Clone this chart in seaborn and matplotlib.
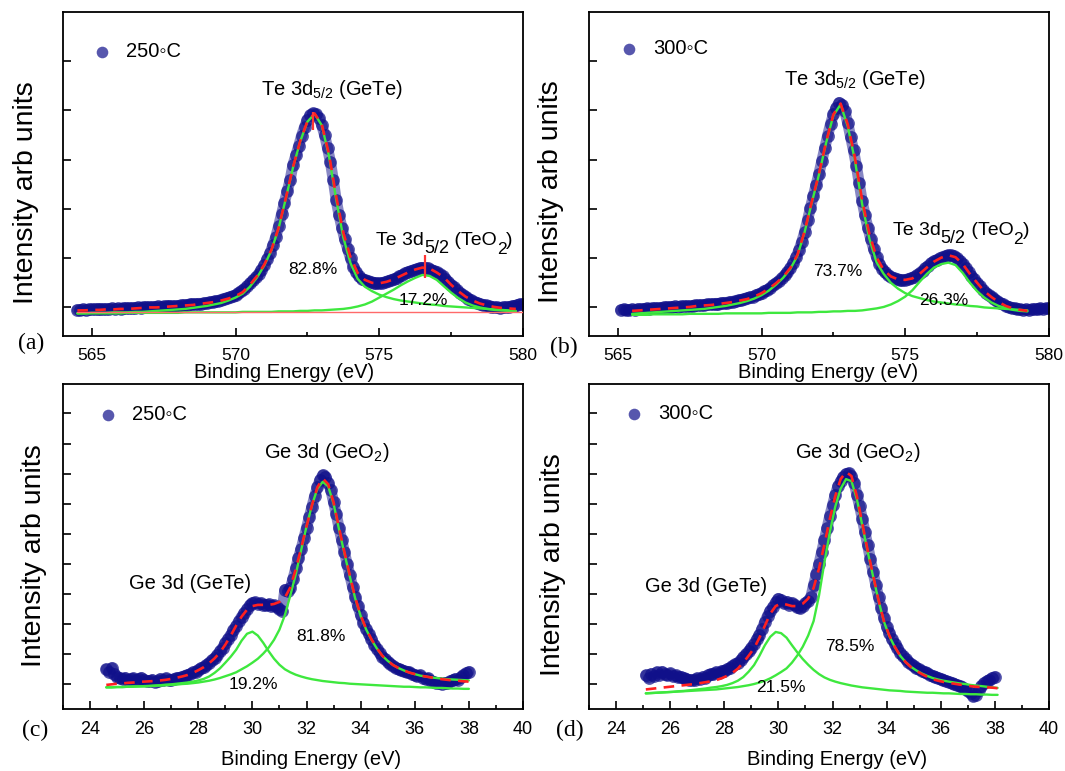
import numpy as np
import matplotlib
matplotlib.use("Agg")
import matplotlib.pyplot as plt
from matplotlib.ticker import MultipleLocator
import seaborn as sns

# ---------------- data ----------------
# panel (a): Te 3d, 250 C
a_data_range = (564.5, 580.0)
a_data_I = [-0.05,-0.05,-0.04,-0.05,-0.04,-0.04,-0.04,-0.03,-0.04,-0.03,
            -0.03,-0.03,-0.02,-0.03,-0.02,-0.03,-0.02,-0.01,-0.02,-0.01,
            -0.01,0.00,-0.01,0.00,0.01,0.00,0.01,0.01,0.02,0.01,
            0.02,0.02,0.03,0.02,0.03,0.03,0.04,0.05,0.05,0.06,
            0.06,0.07,0.08,0.08,0.09,0.10,0.11,0.12,0.13,0.14,
            0.16,0.18,0.19,0.21,0.23,0.25,0.29,0.33,0.38,0.43,
            0.49,0.55,0.61,0.68,0.77,0.86,0.98,1.10,1.26,1.43,
            1.65,1.89,2.13,2.36,2.59,2.90,3.09,3.28,3.49,3.66,
            3.81,3.90,3.94,3.92,3.85,3.70,3.50,3.24,2.96,2.59,
            2.19,1.88,1.62,1.38,1.19,1.00,0.83,0.72,0.63,0.58,
            0.55,0.53,0.51,0.50,0.49,0.49,0.50,0.51,0.53,0.55,
            0.57,0.60,0.63,0.66,0.69,0.72,0.74,0.76,0.78,0.80,
            0.81,0.81,0.80,0.77,0.74,0.71,0.67,0.63,0.58,0.52,
            0.46,0.41,0.35,0.30,0.26,0.22,0.18,0.15,0.12,0.10,
            0.07,0.05,0.04,0.02,0.01,0.00,0.00,-0.01,0.00,0.01,
            0.00,0.02,0.03,0.05,0.07,0.06]
a_line_range = (564.5, 579.75)
a_fit_I = [-0.06,-0.06,-0.05,-0.05,-0.04,-0.04,-0.03,-0.03,-0.02,-0.01,
           0.00,0.00,0.01,0.02,0.03,0.04,0.05,0.07,0.09,0.11,
           0.14,0.18,0.23,0.31,0.46,0.64,0.87,1.17,1.62,2.22,
           2.85,3.38,3.78,3.94,3.72,3.12,2.26,1.52,1.02,0.70,
           0.56,0.50,0.49,0.52,0.57,0.64,0.71,0.77,0.81,0.79,
           0.71,0.61,0.46,0.33,0.22,0.14,0.08,0.04,0.01,-0.01,
           -0.02,-0.03]
a_gete_I = [-0.12,-0.12,-0.11,-0.11,-0.11,-0.10,-0.10,-0.10,-0.09,-0.09,
            -0.08,-0.07,-0.06,-0.05,-0.04,-0.03,-0.01,0.01,0.03,0.06,
            0.09,0.14,0.20,0.28,0.42,0.61,0.85,1.16,1.61,2.21,
            2.84,3.37,3.77,3.93,3.70,3.08,2.20,1.42,0.90,0.58,
            0.42,0.33,0.26,0.21,0.17,0.14,0.12,0.10,0.08,0.06,
            0.05,0.03,0.02,0.01,0.00,-0.01,-0.02,-0.03,-0.04,-0.05,
            -0.06,-0.07]
a_teo2_I = [-0.12,-0.12,-0.12,-0.12,-0.12,-0.12,-0.12,-0.11,-0.11,-0.11,
            -0.11,-0.11,-0.11,-0.11,-0.11,-0.10,-0.10,-0.10,-0.10,-0.10,
            -0.10,-0.10,-0.10,-0.09,-0.09,-0.09,-0.09,-0.09,-0.08,-0.08,
            -0.08,-0.07,-0.07,-0.06,-0.06,-0.05,-0.04,-0.03,-0.01,0.02,
            0.06,0.12,0.20,0.28,0.36,0.45,0.53,0.60,0.66,0.64,
            0.56,0.43,0.30,0.19,0.10,0.04,0.00,-0.03,-0.05,-0.06,
            -0.07,-0.08]
a_bg_E = [564.5, 580.0]
a_bg_I = [-0.10, -0.10]
a_peak_E = [572.71, 576.59]
a_peak_lo = [3.60, 0.60]
a_peak_hi = [3.97, 1.06]

# panel (b): Te 3d, 300 C
b_data_range = (565.1, 580.0)
b_data_I = [-0.05,-0.04,-0.06,-0.05,-0.04,-0.05,-0.03,-0.04,-0.03,-0.02,
            -0.03,-0.02,-0.01,-0.02,-0.01,0.00,0.01,0.00,0.01,0.02,
            0.01,0.02,0.02,0.03,0.02,0.03,0.04,0.04,0.05,0.05,
            0.06,0.06,0.07,0.08,0.08,0.09,0.10,0.10,0.12,0.12,
            0.14,0.15,0.16,0.18,0.19,0.21,0.22,0.25,0.27,0.30,
            0.33,0.36,0.40,0.45,0.49,0.54,0.60,0.65,0.72,0.80,
            0.90,1.02,1.16,1.33,1.53,1.77,2.02,2.26,2.49,2.72,
            2.98,3.24,3.49,3.72,3.92,4.06,4.16,4.12,3.98,3.74,
            3.47,3.19,2.88,2.52,2.16,1.87,1.62,1.39,1.19,1.02,
            0.89,0.79,0.71,0.66,0.62,0.59,0.57,0.56,0.55,0.56,
            0.57,0.59,0.62,0.66,0.70,0.75,0.80,0.85,0.90,0.94,
            0.97,1.00,1.03,1.05,1.06,1.06,1.04,1.00,0.95,0.89,
            0.81,0.72,0.64,0.57,0.50,0.43,0.36,0.30,0.25,0.21,
            0.17,0.13,0.09,0.06,0.03,0.01,-0.01,-0.02,-0.04,-0.04,
            -0.05,-0.04,-0.05,-0.04,-0.03,-0.04,-0.02,-0.03,-0.02,-0.02]
b_line_range = (565.5, 579.25)
b_fit_I = [-0.07,-0.06,-0.05,-0.04,-0.03,-0.02,-0.01,0.00,0.01,0.03,
           0.04,0.05,0.07,0.09,0.11,0.14,0.17,0.22,0.29,0.38,
           0.49,0.62,0.80,1.07,1.55,2.15,2.72,3.37,3.92,4.14,
           3.72,3.04,2.18,1.50,1.02,0.76,0.63,0.57,0.56,0.59,
           0.68,0.81,0.93,1.01,1.06,1.02,0.88,0.68,0.50,0.33,
           0.21,0.11,0.03,-0.02,-0.05,-0.07]
b_gete_I = [-0.13,-0.12,-0.11,-0.10,-0.09,-0.08,-0.07,-0.06,-0.05,-0.04,
            -0.03,-0.01,0.01,0.03,0.06,0.09,0.13,0.18,0.25,0.34,
            0.46,0.60,0.78,1.05,1.53,2.13,2.70,3.35,3.90,4.12,
            3.68,2.98,2.10,1.40,0.92,0.68,0.50,0.38,0.29,0.23,
            0.19,0.15,0.12,0.10,0.08,0.06,0.05,0.03,0.02,0.00,
            -0.01,-0.02,-0.03,-0.04,-0.05,-0.06]
b_teo2_I = [-0.15,-0.15,-0.15,-0.14,-0.14,-0.14,-0.14,-0.14,-0.13,-0.13,
            -0.13,-0.13,-0.13,-0.12,-0.12,-0.12,-0.12,-0.12,-0.12,-0.11,
            -0.11,-0.11,-0.11,-0.10,-0.10,-0.10,-0.09,-0.09,-0.08,-0.08,
            -0.07,-0.07,-0.06,-0.04,-0.02,0.01,0.06,0.13,0.22,0.35,
            0.52,0.68,0.81,0.88,0.91,0.86,0.70,0.50,0.33,0.20,
            0.10,0.03,-0.01,-0.05,-0.07,-0.08]

# panel (c): Ge 3d, 250 C
c_data_range = (24.6, 38.0)
c_data_I = [0.50,0.42,0.55,0.35,0.25,0.20,0.18,0.22,0.15,0.17,
            0.20,0.14,0.18,0.22,0.16,0.12,0.10,0.15,0.08,0.12,
            0.18,0.14,0.20,0.16,0.13,0.18,0.22,0.20,0.26,0.28,
            0.30,0.34,0.40,0.42,0.48,0.55,0.58,0.64,0.72,0.80,
            0.88,0.97,1.10,1.22,1.38,1.52,1.65,1.80,1.95,2.10,
            2.25,2.38,2.50,2.62,2.70,2.72,2.68,2.70,2.65,2.62,
            2.66,2.60,2.62,2.58,2.50,2.45,3.15,3.10,3.20,3.50,
            3.85,4.20,4.50,4.85,5.20,5.55,5.90,6.25,6.55,6.80,
            6.95,6.90,6.70,6.45,6.05,5.65,5.20,4.80,4.40,4.00,
            3.62,3.25,2.90,2.60,2.30,2.05,1.85,1.68,1.50,1.32,
            1.18,1.05,0.92,0.85,0.75,0.68,0.62,0.55,0.52,0.48,
            0.44,0.40,0.40,0.34,0.30,0.28,0.30,0.22,0.18,0.20,
            0.12,0.08,0.04,0.06,0.02,0.06,0.04,0.10,0.14,0.18,
            0.15,0.24,0.30,0.36,0.42]
c_line_range = (24.6, 38.0)
c_fit_I = [-0.02,0.00,0.02,0.03,0.05,0.06,0.08,0.09,0.10,0.11,
           0.13,0.15,0.18,0.22,0.26,0.31,0.38,0.47,0.57,0.70,
           0.86,1.06,1.32,1.62,1.95,2.25,2.48,2.60,2.64,2.64,
           2.64,2.67,2.74,2.88,3.22,3.82,4.52,5.25,5.95,6.55,
           6.84,6.65,6.05,5.20,4.40,3.62,2.88,2.30,1.85,1.50,
           1.20,0.95,0.78,0.64,0.54,0.46,0.39,0.34,0.29,0.26,
           0.23,0.20,0.17,0.15,0.13,0.12,0.10,0.09]
c_geo2_I = [-0.10,-0.10,-0.09,-0.09,-0.08,-0.08,-0.07,-0.07,-0.06,-0.05,
            -0.04,-0.03,-0.02,-0.01,0.01,0.02,0.04,0.06,0.09,0.12,
            0.16,0.21,0.27,0.33,0.40,0.50,0.60,0.72,0.85,1.02,
            1.22,1.48,1.82,2.30,2.95,3.65,4.45,5.25,5.95,6.50,
            6.73,6.58,6.00,5.15,4.35,3.58,2.85,2.27,1.83,1.48,
            1.19,0.95,0.78,0.64,0.54,0.46,0.39,0.34,0.29,0.26,
            0.23,0.21,0.19,0.17,0.16,0.15,0.14,0.13]
c_gete_I = [-0.10,-0.10,-0.09,-0.09,-0.08,-0.07,-0.07,-0.06,-0.05,-0.04,
            -0.03,-0.01,0.00,0.02,0.04,0.06,0.09,0.13,0.18,0.26,
            0.38,0.53,0.72,0.92,1.15,1.45,1.68,1.75,1.62,1.38,
            1.10,0.85,0.65,0.50,0.40,0.32,0.26,0.21,0.17,0.14,
            0.11,0.09,0.07,0.05,0.04,0.02,0.01,0.00,-0.01,-0.02,
            -0.03,-0.04,-0.05,-0.06,-0.07,-0.08,-0.08,-0.09,-0.10,-0.10,
            -0.11,-0.12,-0.12,-0.13,-0.14,-0.14,-0.15,-0.15]

# panel (d): Ge 3d, 300 C
d_data_range = (25.1, 38.0)
d_data_I = [0.30,0.22,0.35,0.28,0.40,0.32,0.42,0.35,0.30,0.36,
            0.28,0.30,0.24,0.26,0.20,0.18,0.15,0.14,0.16,0.20,
            0.18,0.25,0.22,0.30,0.35,0.33,0.40,0.38,0.45,0.44,
            0.50,0.55,0.60,0.66,0.72,0.80,0.90,1.00,1.10,1.22,
            1.35,1.50,1.65,1.85,2.08,2.28,2.45,2.58,2.72,2.85,
            2.80,2.70,2.75,2.65,2.70,2.62,2.58,2.52,2.60,2.70,
            2.78,2.90,3.30,3.65,4.00,4.40,4.80,5.20,5.60,5.95,
            6.30,6.58,6.75,6.90,7.00,7.02,6.92,6.70,6.30,5.92,
            5.50,5.05,4.62,4.15,3.72,3.30,2.90,2.55,2.22,1.92,
            1.70,1.50,1.35,1.20,1.05,0.95,0.85,0.75,0.68,0.62,
            0.55,0.50,0.44,0.40,0.36,0.32,0.28,0.26,0.22,0.18,
            0.15,0.12,0.08,0.05,0.02,-0.02,-0.06,-0.10,-0.15,-0.22,
            -0.30,-0.40,-0.35,-0.20,-0.05,0.05,0.10,0.15,0.22,0.25]
d_line_range = (25.1, 38.1)
d_fit_I = [-0.17,-0.15,-0.13,-0.11,-0.09,-0.07,-0.05,-0.03,-0.01,0.01,
           0.04,0.07,0.10,0.14,0.20,0.28,0.38,0.52,0.72,0.95,
           1.20,1.55,1.95,2.35,2.60,2.69,2.65,2.60,2.60,2.68,
           2.85,3.20,3.85,4.65,5.50,6.25,6.82,7.06,6.92,6.25,
           5.35,4.45,3.62,2.80,2.10,1.62,1.25,0.95,0.74,0.57,
           0.45,0.34,0.25,0.17,0.12,0.08,0.05,0.02,-0.01,-0.03,
           -0.06,-0.08,-0.09,-0.10,-0.11,-0.13]
d_geo2_I = [-0.30,-0.29,-0.28,-0.27,-0.26,-0.25,-0.24,-0.23,-0.22,-0.21,
            -0.20,-0.19,-0.18,-0.17,-0.15,-0.13,-0.11,-0.09,-0.06,-0.03,
            0.01,0.06,0.12,0.20,0.30,0.41,0.53,0.72,0.96,1.25,
            1.62,2.10,2.95,4.05,5.05,5.90,6.50,6.82,6.75,6.15,
            5.28,4.40,3.58,2.78,2.08,1.60,1.24,0.95,0.74,0.58,
            0.46,0.36,0.28,0.21,0.16,0.12,0.09,0.06,0.03,0.01,
            -0.02,-0.04,-0.06,-0.08,-0.10,-0.12]
d_gete_I = [-0.30,-0.29,-0.28,-0.27,-0.26,-0.25,-0.23,-0.22,-0.20,-0.18,
            -0.16,-0.14,-0.11,-0.09,-0.06,-0.02,0.04,0.12,0.24,0.42,
            0.64,0.95,1.30,1.58,1.74,1.70,1.55,1.30,1.06,0.84,
            0.65,0.48,0.34,0.23,0.15,0.09,0.04,0.00,-0.04,-0.07,
            -0.10,-0.12,-0.14,-0.16,-0.18,-0.20,-0.21,-0.22,-0.24,-0.25,
            -0.26,-0.27,-0.28,-0.28,-0.29,-0.30,-0.30,-0.31,-0.32,-0.32,
            -0.33,-0.33,-0.34,-0.34,-0.35,-0.35]

temps = ["250\u25e6C", "300\u25e6C", "250\u25e6C", "300\u25e6C"]
pct_labels = ["82.8%", "17.2%", "73.7%", "26.3%", "81.8%", "19.2%", "78.5%", "21.5%"]

# ---------------- style ----------------
sns.set_style("ticks")
plt.rcParams["font.family"] = ["Liberation Sans", "DejaVu Sans"]
plt.rcParams["mathtext.fontset"] = "custom"
plt.rcParams["mathtext.rm"] = "Liberation Sans"
plt.rcParams["mathtext.it"] = "Liberation Sans:italic"
plt.rcParams["mathtext.bf"] = "Liberation Sans:bold"
plt.rcParams["text.color"] = "black"
plt.rcParams["axes.labelcolor"] = "black"
plt.rcParams["xtick.color"] = "black"
plt.rcParams["ytick.color"] = "black"

DATA_C = "#10108a"
GREEN = "#3ee83e"
RED = "#ff2020"

fig = plt.figure(figsize=(10.65, 7.71), dpi=100)
W, H = 1065.0, 771.0


def px_axes(left, top, right, bottom):
    return fig.add_axes([left / W, 1 - bottom / H, (right - left) / W, (bottom - top) / H])


def grid(rng, vals):
    return np.linspace(rng[0], rng[1], len(vals))


def draw(ax, drange, dvals, lrange, fit, comps, temp, xlim, ylim, nyt,
         major, minor, tsize, xl_xy, yl_xy):
    Ed = grid(drange, dvals)
    El = grid(lrange, fit)
    sns.lineplot(x=Ed, y=dvals, ax=ax, color=DATA_C, alpha=0.5, linewidth=8.0,
                 estimator=None, legend=False, zorder=1)
    sns.scatterplot(x=Ed, y=dvals, ax=ax, s=85, color=DATA_C, alpha=0.7,
                    linewidth=0, label=temp, legend=False, zorder=2)
    for comp in comps:
        sns.lineplot(x=grid(lrange, comp), y=comp, ax=ax, color=GREEN,
                     linewidth=1.7, estimator=None, legend=False, zorder=3)
    sns.lineplot(x=El, y=fit, ax=ax, color=RED, linewidth=1.9,
                 linestyle=(0, (4, 2.8)), estimator=None, legend=False, zorder=4)
    ax.set_xlim(*xlim)
    ax.set_ylim(*ylim)
    ax.set_yticks(range(nyt))
    ax.xaxis.set_major_locator(MultipleLocator(major))
    ax.xaxis.set_minor_locator(MultipleLocator(minor))
    ax.tick_params(axis="both", which="both", direction="in", top=False,
                   right=False, colors="black")
    ax.tick_params(axis="x", which="major", length=5.5, width=1.2,
                   labelsize=tsize, pad=8.5)
    ax.tick_params(axis="x", which="minor", length=3.0, width=1.2)
    ax.tick_params(axis="y", which="major", length=5.5, width=1.2,
                   labelleft=False)
    for sp in ax.spines.values():
        sp.set_linewidth(1.3)
        sp.set_color("black")
    ax.set_xlabel("Binding Energy (eV)", fontsize=14.5)
    ax.xaxis.label.set_va("baseline")
    ax.xaxis.set_label_coords(*xl_xy)
    ax.set_ylabel("Intensity arb units", fontsize=20.5)
    ax.yaxis.label.set_va("center")
    ax.yaxis.set_label_coords(*yl_xy)


def add_legend(ax, leg_xy):
    leg = ax.legend(loc="center left", bbox_to_anchor=leg_xy, frameon=False,
                    fontsize=14.5, handlelength=1.0, handletextpad=0.7,
                    borderpad=0, borderaxespad=0)
    for h in leg.legend_handles:
        h.set_sizes([70])


def teo2_label(ax, x, y):
    pieces = [("Te 3d", 14, 0), ("5/2", 13, -5.8), (" (TeO", 14, 5.8),
              ("2", 12.5, -5.8), (")", 14, 5.8)]
    prev = ax.text(x, y, pieces[0][0], fontsize=pieces[0][1], ha="left",
                   va="baseline", zorder=6)
    for txt, size, dy in pieces[1:]:
        prev = ax.annotate(txt, xy=(1, 0), xycoords=prev, xytext=(0, dy),
                           textcoords="offset points", fontsize=size,
                           ha="left", va="bottom", zorder=6)


# ---------------- panels ----------------
ax_a = px_axes(63, 12, 523, 336)
ax_b = px_axes(589, 12, 1049, 336)
ax_c = px_axes(63, 384, 523, 709)
ax_d = px_axes(589, 384, 1049, 709)

draw(ax_a, a_data_range, a_data_I, a_line_range, a_fit_I, [a_gete_I, a_teo2_I],
     temps[0], (564, 580), (-0.58, 6.0), 6, 5, 2.5, 12.5,
     (0.480, -0.1296), (-0.0804, 0.4414))
sns.lineplot(x=a_bg_E, y=a_bg_I, ax=ax_a, color="#ff6a6a", linewidth=1.0,
             estimator=None, legend=False, zorder=3)
ax_a.vlines(a_peak_E, a_peak_lo, a_peak_hi, color="#ff3535", linewidth=1.6,
            zorder=5)

draw(ax_b, b_data_range, b_data_I, b_line_range, b_fit_I, [b_gete_I, b_teo2_I],
     temps[1], (564, 580), (-0.58, 6.0), 6, 5, 2.5, 12.5,
     (0.520, -0.1296), (-0.0826, 0.4444))

draw(ax_c, c_data_range, c_data_I, c_line_range, c_fit_I, [c_geo2_I, c_gete_I],
     temps[2], (23, 40), (-0.82, 9.98), 10, 2, 1, 13,
     (0.539, -0.1723), (-0.063, 0.4708))

draw(ax_d, d_data_range, d_data_I, d_line_range, d_fit_I, [d_geo2_I, d_gete_I],
     temps[3], (23, 40), (-0.82, 9.98), 10, 2, 1, 13,
     (0.539, -0.1723), (-0.0783, 0.4431))

add_legend(ax_a, (0.062, 0.877))
add_legend(ax_b, (0.065, 0.886))
add_legend(ax_c, (0.075, 0.905))
add_legend(ax_d, (0.075, 0.908))

# ---------------- annotations ----------------
sub52 = r"Te 3d$_{\mathregular{5/2}}$ (GeTe)"
ax_a.text(573.36, 4.31, sub52, fontsize=14.5, ha="center", va="baseline", zorder=6)
ax_b.text(573.25, 4.51, sub52, fontsize=14.5, ha="center", va="baseline", zorder=6)
teo2_label(ax_a, 574.89, 1.27)
teo2_label(ax_b, 574.57, 1.47)

ax_a.text(572.70, 0.78, pct_labels[0], fontsize=12.5, ha="center", va="center", zorder=6)
ax_a.text(576.54, 0.15, pct_labels[1], fontsize=12.5, ha="center", va="center", zorder=6)
ax_b.text(572.64, 0.73, pct_labels[2], fontsize=12.5, ha="center", va="center", zorder=6)
ax_b.text(576.35, 0.15, pct_labels[3], fontsize=12.5, ha="center", va="center", zorder=6)

geo2 = r"Ge 3d (GeO$_{\mathregular{2}}$)"
ax_c.text(27.71, 3.18, "Ge 3d (GeTe)", fontsize=14.5, ha="center", va="baseline", zorder=6)
ax_c.text(32.76, 7.53, geo2, fontsize=14.5, ha="center", va="baseline", zorder=6)
ax_c.text(32.53, 1.60, pct_labels[4], fontsize=12.5, ha="center", va="center", zorder=6)
ax_c.text(30.04, -0.01, pct_labels[5], fontsize=12.5, ha="center", va="center", zorder=6)

ax_d.text(27.31, 3.08, "Ge 3d (GeTe)", fontsize=14.5, ha="center", va="baseline", zorder=6)
ax_d.text(32.92, 7.53, geo2, fontsize=14.5, ha="center", va="baseline", zorder=6)
ax_d.text(32.65, 1.27, pct_labels[6], fontsize=12.5, ha="center", va="center", zorder=6)
ax_d.text(30.10, -0.11, pct_labels[7], fontsize=12.5, ha="center", va="center", zorder=6)

for lab, (x, y) in zip(["(a)", "(b)", "(c)", "(d)"],
                       [(31, 343), (564, 347), (35, 730), (569.5, 730)]):
    fig.text(x / W, 1 - y / H, lab, ha="center", va="center",
             family="Liberation Serif", fontsize=17)

fig.savefig("out.png", dpi=100)
